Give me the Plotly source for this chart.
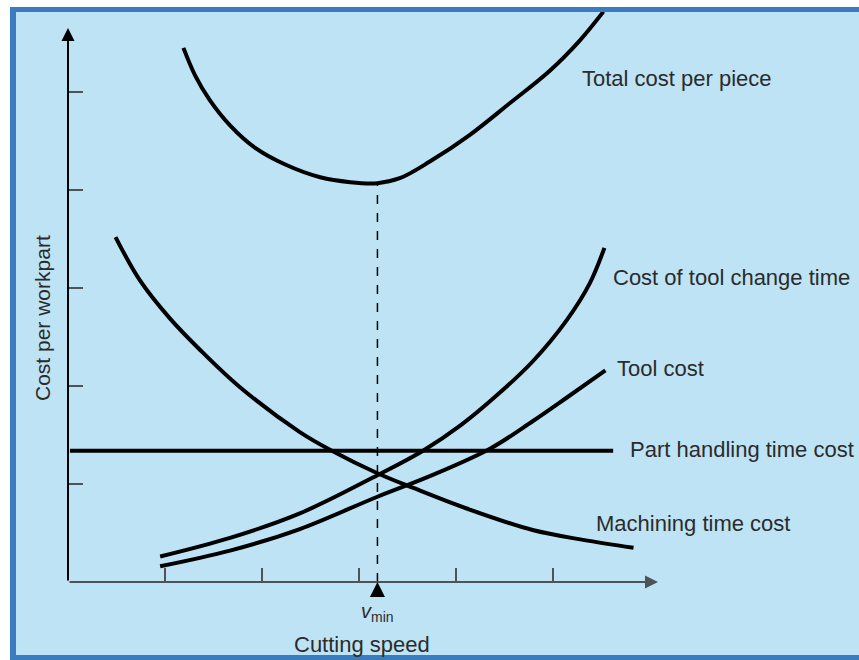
import plotly.graph_objects as go

# ---------------- data (in axis units) ----------------
total_x = [1.19, 1.31, 1.46, 1.67, 1.93, 2.24, 2.60, 2.91, 3.19, 3.42, 3.73, 4.14, 4.56, 4.97, 5.28, 5.52]
total_y = [5.45, 5.17, 4.92, 4.66, 4.43, 4.26, 4.13, 4.08, 4.07, 4.12, 4.29, 4.56, 4.89, 5.22, 5.53, 5.82]

machining_x = [0.49, 0.74, 1.05, 1.36, 1.77, 2.39, 2.72, 3.19, 3.56, 4.11, 4.79, 5.31, 5.83]
machining_y = [3.52, 3.08, 2.69, 2.37, 1.99, 1.53, 1.34, 1.11, 0.96, 0.75, 0.53, 0.43, 0.35]

toolchange_x = [0.95, 1.67, 2.39, 3.19, 3.66, 4.05, 4.45, 4.79, 5.14, 5.38, 5.53]
toolchange_y = [0.26, 0.45, 0.70, 1.09, 1.34, 1.60, 1.93, 2.25, 2.67, 3.05, 3.41]

toolcost_x = [0.95, 1.67, 2.39, 3.19, 3.73, 4.35, 4.79, 5.14, 5.54]
toolcost_y = [0.16, 0.32, 0.54, 0.87, 1.08, 1.36, 1.64, 1.88, 2.16]

handling_x = [0.02, 5.62]
handling_y = [1.34, 1.34]

v_min = 3.19
min_total = 4.07

tick_vals = [1, 2, 3, 4, 5]

labels = ["Total cost per piece", "Cost of tool change time", "Tool cost",
          "Part handling time cost", "Machining time cost"]
label_x = [5.28, 5.60, 5.64, 5.77, 5.42]
label_y = [5.14, 3.11, 2.18, 1.35, 0.60]

# ---------------- styling ----------------
W, H = 859, 660
PL, PR, PT, PB = 68, 658, 12, 582          # plot area in pixels
X_MAX = (PR - PL) / 97.0
Y_MAX = (PB - PT) / 98.0

BG = "#bde3f5"
FRAME = "#3a7cc0"
AXIS = "#4d5358"
TXT = "#2b2b2b"
FONT = "Liberation Sans, Arial, sans-serif"


def px_x(px):
    return (px - PL) / (PR - PL)


def px_y(py):
    return (PB - py) / (PB - PT)


fig = go.Figure()

curve = dict(color="black", width=4, shape="spline", smoothing=1.0)
for xs, ys in [(total_x, total_y), (machining_x, machining_y),
               (toolchange_x, toolchange_y), (toolcost_x, toolcost_y)]:
    fig.add_trace(go.Scatter(x=xs, y=ys, mode="lines", line=curve, hoverinfo="skip"))

fig.add_trace(go.Scatter(x=handling_x, y=handling_y, mode="lines",
                         line=dict(color="black", width=4), hoverinfo="skip"))

fig.add_trace(go.Scatter(x=[v_min, v_min], y=[0, min_total], mode="lines",
                         line=dict(color="black", width=1.5, dash="dash"), hoverinfo="skip"))

# axes with arrow heads
fig.add_annotation(x=X_MAX, y=0, ax=0, ay=0, xref="x", yref="y", axref="x", ayref="y",
                   showarrow=True, arrowhead=2, arrowsize=1.3, arrowwidth=2,
                   arrowcolor=AXIS, text="")
fig.add_annotation(x=0, y=(PB - 28) / 98.0, ax=0, ay=0, xref="x", yref="y",
                   axref="x", ayref="y", showarrow=True, arrowhead=2, arrowsize=1.3,
                   arrowwidth=2, arrowcolor="black", text="")
# v_min pointer under the axis
fig.add_annotation(x=v_min, y=0, ax=v_min, ay=-0.15, xref="x", yref="y",
                   axref="x", ayref="y", showarrow=True, arrowhead=2, arrowsize=1.5,
                   arrowwidth=2, arrowcolor="black", text="")

for t, lx, ly in zip(labels, label_x, label_y):
    fig.add_annotation(x=lx, y=ly, xref="x", yref="y", text=t, showarrow=False,
                       xanchor="left", yanchor="middle",
                       font=dict(family=FONT, size=22, color=TXT))

fig.add_annotation(x=v_min, y=px_y(598), xref="x", yref="paper",
                   text="<i>v</i><sub>min</sub>", showarrow=False,
                   xanchor="center", yanchor="top",
                   font=dict(family=FONT, size=20, color=TXT))
fig.add_annotation(x=px_x(362), y=px_y(645), xref="paper", yref="paper",
                   text="Cutting speed", showarrow=False,
                   xanchor="center", yanchor="middle",
                   font=dict(family=FONT, size=22, color=TXT))
fig.add_annotation(x=px_x(42), y=px_y(318), xref="paper", yref="paper",
                   text="Cost per workpart", textangle=-90, showarrow=False,
                   xanchor="center", yanchor="middle",
                   font=dict(family=FONT, size=21, color=TXT))

# page frame: white strips and blue border (pixels)
frame = [
    (0, 0, 10, H, "white"),
    (0, 0, W, 7, "white"),
    (10, 7, 16, H, FRAME),
    (10, 7, W, 12, FRAME),
    (10, 655, W, H, FRAME),
]
for x0, y0, x1, y1, c in frame:
    fig.add_shape(type="rect", xref="paper", yref="paper",
                  x0=px_x(x0), x1=px_x(x1), y0=px_y(y1), y1=px_y(y0),
                  fillcolor=c, line_width=0, layer="above")

fig.update_xaxes(range=[0, X_MAX], showgrid=False, zeroline=False, showline=False,
                 ticks="inside", ticklen=14, tickwidth=1.5, tickcolor=AXIS,
                 tickvals=tick_vals, showticklabels=False)
fig.update_yaxes(range=[0, Y_MAX], showgrid=False, zeroline=False, showline=False,
                 ticks="inside", ticklen=15, tickwidth=1.5, tickcolor=AXIS,
                 tickvals=tick_vals, showticklabels=False)

fig.update_layout(
    width=W, height=H,
    margin=dict(l=PL, r=W - PR, t=PT, b=H - PB),
    paper_bgcolor=BG, plot_bgcolor="rgba(0,0,0,0)",
    showlegend=False,
)

# drop the default body margin so the figure sits at the page's top-left corner
fig.write_html("out.html", config={"displayModeBar": False},
               post_script="document.body.style.margin='0';document.body.style.overflow='hidden';")
